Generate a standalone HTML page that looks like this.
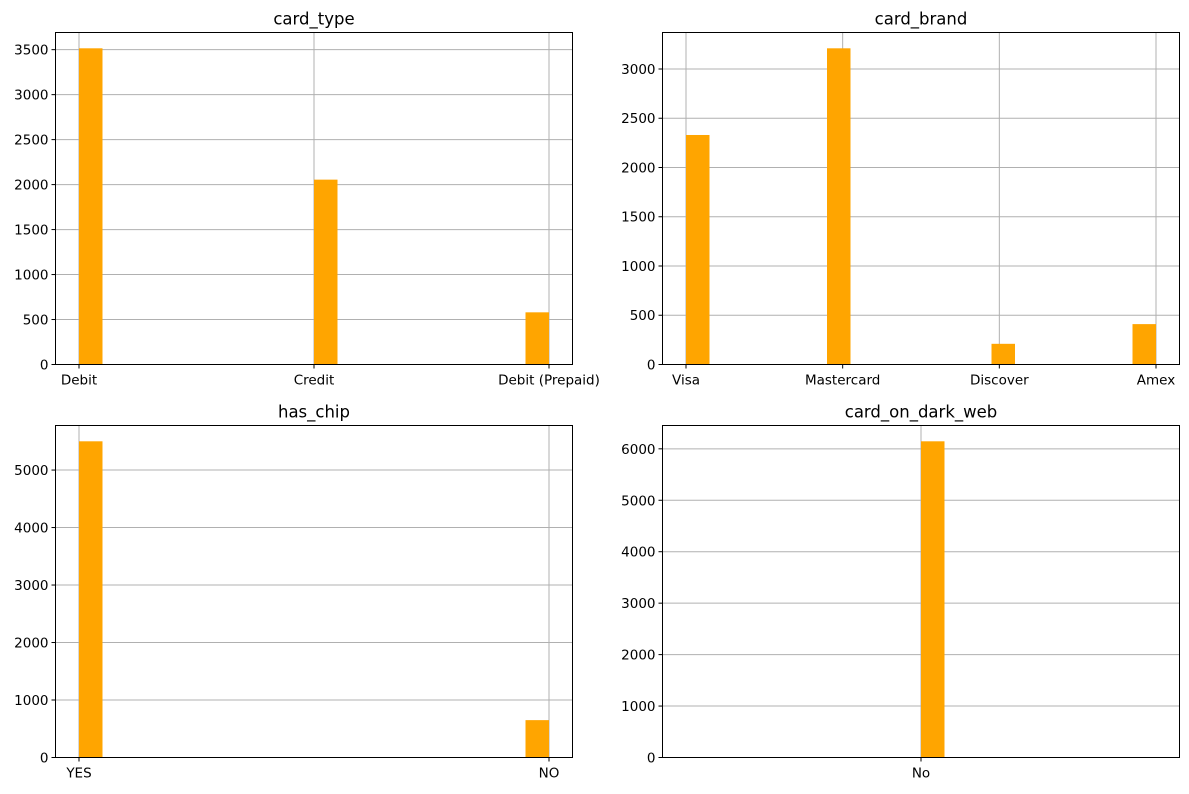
<!DOCTYPE html>
<html><head><meta charset="utf-8"><style>
body{margin:0;background:#fff;font-family:"DejaVu Sans","Liberation Sans",sans-serif;}
svg text{font-family:"DejaVu Sans","Liberation Sans",sans-serif;}
</style></head><body>
<svg id="c" width="1189" height="790" xmlns="http://www.w3.org/2000/svg"></svg>
<script>
const titles = ["card_type","card_brand","has_chip","card_on_dark_web"];
const cardTypeCats = ["Debit","Credit","Debit (Prepaid)"];
const cardTypeVals = [3515,2055,580];
const cardBrandCats = ["Visa","Mastercard","Discover","Amex"];
const cardBrandVals = [2330,3210,210,410];
const chipCats = ["YES","NO"];
const chipVals = [5500,650];
const darkCats = ["No"];
const darkVals = [6146];
const yTicksTL = [0,500,1000,1500,2000,2500,3000,3500];
const yTicksTR = [0,500,1000,1500,2000,2500,3000];
const yTicksBL = [0,1000,2000,3000,4000,5000];
const yTicksBR = [0,1000,2000,3000,4000,5000,6000];

const NS="http://www.w3.org/2000/svg";
const svg=document.getElementById('c');
function mk(t,a,p){const e=document.createElementNS(NS,t);for(const k in a)e.setAttribute(k,a[k]);(p||svg).appendChild(e);return e;}

function panel(idx,box,cats,vals,yticks){
  const g=mk('g',{});
  
  
  const n=cats.length;
  let lo=0,hi=n-1;
  if(n===1){lo=-0.5;hi=0.5;}
  const span=hi-lo, pad=span*0.05;
  const x=v=>box.l+(v-(lo-pad))/(span+2*pad)*(box.r-box.l);
  const ymax=Math.max(...vals)*1.05;
  const y=v=>box.b-v/ymax*(box.b-box.t);
  cats.forEach((c,i)=>{const l=mk('line',{x1:x(i),x2:x(i),y1:box.t,y2:box.b,stroke:'#b0b0b0','stroke-width':1},g);
    });
  yticks.forEach(t=>{const l=mk('line',{x1:box.l,x2:box.r,y1:y(t),y2:y(t),stroke:'#b0b0b0','stroke-width':1},g);
    });
  const bw=span/20;
  cats.forEach((c,i)=>{
    let k=Math.floor((i-lo)/bw+1e-9); if(k>19)k=19;
    const x0=x(lo+k*bw), x1=x(lo+(k+1)*bw);
    const r=mk('rect',{x:x0,y:y(vals[i]),width:x1-x0,height:box.b-y(vals[i]),fill:'#ffa500'},g);
    
    
  });
  const f=mk('rect',{x:box.l,y:box.t,width:box.r-box.l,height:box.b-box.t,fill:'none',stroke:'#000','stroke-width':1},g);
  
  cats.forEach((c,i)=>{
    mk('line',{x1:x(i),x2:x(i),y1:box.b,y2:box.b+4,stroke:'#000'},g);
    const t=mk('text',{x:x(i),y:box.b+20,'text-anchor':'middle','font-size':13.5,fill:'#000'},g);t.textContent=c;
    
  });
  yticks.forEach(v=>{
    mk('line',{x1:box.l-4,x2:box.l,y1:y(v),y2:y(v),stroke:'#000'},g);
    const t=mk('text',{x:box.l-7,y:y(v)+5,'text-anchor':'end','font-size':13.5,fill:'#000'},g);t.textContent=v;
    
  });
  const tt=mk('text',{x:(box.l+box.r)/2,y:box.t-8,'text-anchor':'middle','font-size':16.5,fill:'#000'},g);tt.textContent=titles[idx];
  
}
panel(0,{l:55.5,r:572.5,t:32.5,b:364.5},cardTypeCats,cardTypeVals,yTicksTL);
panel(1,{l:662.5,r:1179.5,t:32.5,b:364.5},cardBrandCats,cardBrandVals,yTicksTR);
panel(2,{l:55.5,r:572.5,t:425.5,b:757.5},chipCats,chipVals,yTicksBL);
panel(3,{l:662.5,r:1179.5,t:425.5,b:757.5},darkCats,darkVals,yTicksBR);
</script>
</body></html>
